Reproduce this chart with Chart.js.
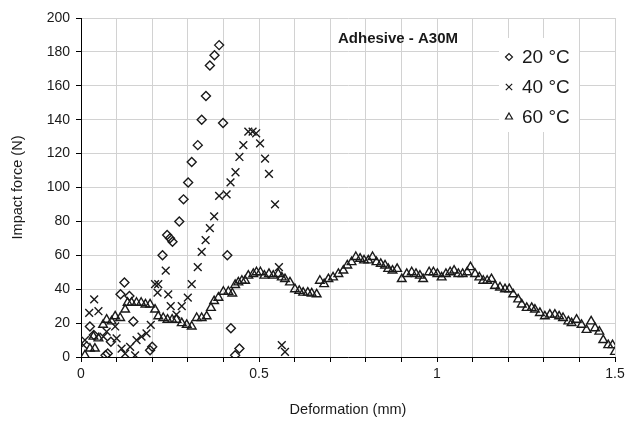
<!DOCTYPE html>
<html lang="en">
<head>
    <meta charset="UTF-8">
    <script src="https://cdn.jsdelivr.net/npm/chart.js@4.4.1/dist/chart.umd.min.js"></script>
    <style>
        html, body { margin: 0; padding: 0; background: #fff; }
        #wrap { width: 629px; height: 430px; }
    </style>
    <title>Adhesive - A30M</title>
</head>
<body>
    <div id="wrap"><canvas id="chart" width="629" height="430"></canvas></div>

    <script>
        // 20 °C
        const x20 = [0.025, 0.036, 0.069, 0.075, 0.084, 0.111, 0.122, 0.136, 0.147, 0.194, 0.200, 0.229, 0.242, 0.250, 0.257,
            0.276, 0.288, 0.301, 0.311, 0.328, 0.339, 0.351, 0.362, 0.375, 0.388, 0.399, 0.411, 0.421, 0.433, 0.445];
        const y20 = [18, 13, 1, 2, 9, 37, 44, 36, 21, 4, 6, 60, 72, 70, 68,
            80, 93, 103, 115, 125, 140, 154, 172, 178, 184, 138, 60, 17, 1, 5];

        // 40 °C
        const x40 = [0.007, 0.011, 0.023, 0.037, 0.049, 0.063, 0.072, 0.096, 0.100, 0.114, 0.124, 0.138, 0.152, 0.156, 0.170,
            0.184, 0.196, 0.208, 0.215, 0.217, 0.238, 0.245, 0.252, 0.268, 0.283, 0.300, 0.311, 0.328, 0.339, 0.350,
            0.362, 0.374, 0.388, 0.409, 0.420, 0.434, 0.445, 0.456, 0.470, 0.482, 0.492, 0.503, 0.517, 0.528, 0.545,
            0.556, 0.564, 0.573];
        const y40 = [7, 10, 26, 34, 27, 12, 15, 18, 11, 5, 2, 6, 1, 10, 12,
            14, 19, 43, 38, 43, 51, 37, 30, 25, 30, 35, 43, 53, 62, 69,
            76, 83, 95, 96, 103, 109, 118, 125, 133, 133, 132, 126, 117, 108, 90,
            53, 7, 3];

        // 60 °C
        const x60 = [0.011, 0.025, 0.035, 0.039, 0.049, 0.062, 0.072, 0.086, 0.096, 0.110, 0.124, 0.131, 0.142, 0.156, 0.169,
            0.181, 0.194, 0.208, 0.217, 0.231, 0.243, 0.256, 0.268, 0.283, 0.297, 0.311, 0.325, 0.339, 0.353, 0.365,
            0.374, 0.386, 0.400, 0.414, 0.425, 0.433, 0.442, 0.452, 0.461, 0.470, 0.484, 0.493, 0.504, 0.515, 0.528,
            0.540, 0.554, 0.564, 0.573, 0.587, 0.601, 0.613, 0.624, 0.637, 0.648, 0.662, 0.671, 0.683, 0.695, 0.708,
            0.723, 0.737, 0.748, 0.760, 0.772, 0.784, 0.795, 0.807, 0.819, 0.830, 0.842, 0.854, 0.863, 0.875, 0.888,
            0.901, 0.915, 0.929, 0.941, 0.952, 0.961, 0.978, 0.990, 1.001, 1.013, 1.025, 1.037, 1.048, 1.060, 1.072,
            1.085, 1.094, 1.107, 1.119, 1.130, 1.141, 1.153, 1.163, 1.177, 1.191, 1.203, 1.214, 1.228, 1.238, 1.252,
            1.266, 1.275, 1.289, 1.303, 1.317, 1.331, 1.343, 1.354, 1.369, 1.378, 1.392, 1.406, 1.420, 1.433, 1.444,
            1.456, 1.467, 1.481, 1.493, 1.500];
        const y60 = [1, 5, 12, 5, 11, 19, 22, 21, 24, 23, 28, 32, 32, 32, 32,
            31, 31, 28, 24, 23, 22, 22, 22, 20, 19, 18, 23, 23, 24, 29,
            33, 35, 38.5, 38.5, 37.5, 42.5, 44, 45, 45, 48, 49, 50, 50, 48, 49,
            48, 49, 47, 46, 44, 40, 39, 38, 38, 37.5, 37, 45, 43, 46, 47,
            49, 51, 54, 56, 59, 58, 57, 57, 59, 56, 55, 54, 52, 51, 52,
            46, 49, 50, 49, 48, 46, 50, 50, 49, 47, 49, 50, 51, 49, 49,
            50, 53, 49, 47, 45, 45, 46, 42, 41, 40, 40, 37, 34, 31, 29,
            29, 28, 26, 24, 25, 25, 24, 23, 21, 20, 22, 19, 16, 21, 17,
            15, 10, 7, 7, 3];

        const seriesLabels = ['20 °C', '40 °C', '60 °C'];
        const pointStyles = ['rectRot', 'crossRot', 'triangle'];
        const pointSizes = [4.5, 5.5, 5];
        const inkColor = '#1a1a1a';
        const fontFamily = '"Liberation Sans", Arial, sans-serif';

        function toPoints(xs, ys) {
            return xs.map((x, i) => ({ x: x, y: ys[i] }));
        }

        const datasets = [toPoints(x20, y20), toPoints(x40, y40), toPoints(x60, y60)].map((pts, i) => ({
            label: seriesLabels[i],
            data: pts,
            showLine: false,
            pointStyle: pointStyles[i],
            pointRadius: pointSizes[i],
            pointBorderColor: inkColor,
            pointBackgroundColor: 'rgba(0,0,0,0)',
            pointBorderWidth: 1.4
        }));

        // legend box and caption drawn inside the plot
        const insideLegend = {
            id: 'insideLegend',
            afterDatasetsDraw(chart) {
                const ctx = chart.ctx;
                ctx.save();
                ctx.fillStyle = '#fff';
                ctx.fillRect(499, 38, 80, 94);

                ctx.fillStyle = inkColor;
                ctx.font = 'bold 15px ' + fontFamily;
                ctx.textBaseline = 'middle';
                ctx.textAlign = 'left';
                ctx.fillText('Adhesive - A30M', 338, 39);

                const rows = [57, 87, 117];
                const legendSizes = [3.5, 4.5, 4];
                ctx.font = '19px ' + fontFamily;
                for (let i = 0; i < 3; i++) {
                    ctx.strokeStyle = inkColor;
                    ctx.fillStyle = 'rgba(0,0,0,0)';
                    ctx.lineWidth = 1.2;
                    Chart.helpers.drawPoint(ctx, {
                        pointStyle: pointStyles[i],
                        radius: legendSizes[i],
                        rotation: 0,
                        borderWidth: 1.2
                    }, 509, rows[i]);
                    ctx.fillStyle = inkColor;
                    ctx.fillText(seriesLabels[i], 522, rows[i] + 1);
                }
                ctx.restore();
            }
        };

        new Chart(document.getElementById('chart').getContext('2d'), {
            type: 'scatter',
            data: { datasets: datasets },
            options: {
                responsive: false,
                animation: false,
                layout: { padding: { top: 18, right: 14, left: 0, bottom: 0 } },
                plugins: {
                    legend: { display: false },
                    tooltip: { enabled: false }
                },
                scales: {
                    x: {
                        type: 'linear',
                        min: 0,
                        max: 1.5,
                        afterFit(scale) { scale.height = 73; },
                        ticks: {
                            stepSize: 0.1,
                            autoSkip: false,
                            maxRotation: 0,
                            padding: 4,
                            color: inkColor,
                            font: { family: fontFamily, size: 14 },
                            callback(value) {
                                const half = value * 2;
                                if (Math.abs(half - Math.round(half)) < 1e-6) {
                                    return String(Math.round(half) / 2);
                                }
                                return '';
                            }
                        },
                        grid: { color: '#d2d2d2', lineWidth: 1, tickColor: '#000', tickLength: 5 },
                        border: { color: '#000', width: 1 },
                        title: {
                            display: true,
                            text: 'Deformation (mm)',
                            color: inkColor,
                            font: { family: fontFamily, size: 14.5 },
                            padding: { top: 0, bottom: 11 }
                        }
                    },
                    y: {
                        min: 0,
                        max: 200,
                        afterFit(scale) { scale.width = 81; },
                        ticks: {
                            stepSize: 20,
                            padding: 6,
                            color: inkColor,
                            font: { family: fontFamily, size: 14 }
                        },
                        grid: { color: '#d2d2d2', lineWidth: 1, tickColor: '#000', tickLength: 5 },
                        border: { color: '#000', width: 1 },
                        title: {
                            display: true,
                            text: 'Impact force (N)',
                            color: inkColor,
                            font: { family: fontFamily, size: 14.5 },
                            padding: { top: 9, bottom: 0 }
                        }
                    }
                }
            },
            plugins: [insideLegend]
        });
    </script>
</body>
</html>
